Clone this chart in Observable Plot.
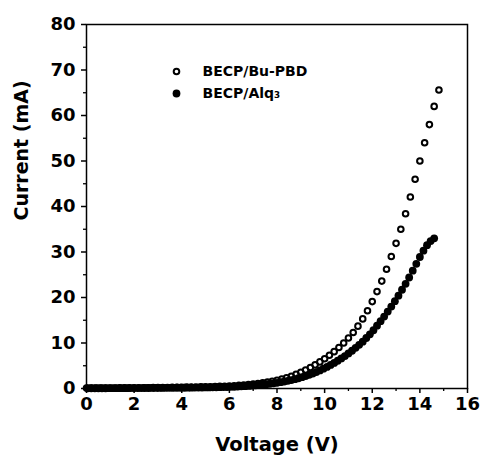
<!DOCTYPE html>
<html><head><meta charset="utf-8">
<script src="https://cdn.jsdelivr.net/npm/d3@7"></script>
<script src="https://cdn.jsdelivr.net/npm/@observablehq/plot@0.6"></script>
<style>body{margin:0;background:#fff}</style>
</head><body><div id="chart"></div>
<script>
// Series 1: BECP/Bu-PBD (open circles)
const pbdVoltage = [
  0,0.2,0.4,0.6,0.8,1.0,1.2,1.4,1.6,1.8,
  2.0,2.2,2.4,2.6,2.8,3.0,3.2,3.4,3.6,3.8,
  4.0,4.2,4.4,4.6,4.8,5.0,5.2,5.4,5.6,5.8,
  6.0,6.2,6.4,6.6,6.8,7.0,7.2,7.4,7.6,7.8,
  8.0,8.2,8.4,8.6,8.8,9.0,9.2,9.4,9.6,9.8,
  10.0,10.2,10.4,10.6,10.8,11.0,11.2,11.4,11.6,11.8,
  12.0,12.2,12.4,12.6,12.8,13.0,13.2,13.4,13.6,13.8,
  14.0,14.2,14.4,14.6,14.8
];
const pbdCurrent = [
  0.10,0.10,0.10,0.11,0.11,0.12,0.12,0.13,0.13,0.14,
  0.15,0.16,0.17,0.18,0.19,0.20,0.21,0.22,0.24,0.26,
  0.28,0.30,0.32,0.34,0.36,0.38,0.40,0.43,0.46,0.50,
  0.55,0.61,0.68,0.77,0.87,0.98,1.10,1.24,1.40,1.58,
  1.80,2.05,2.35,2.70,3.10,3.55,4.05,4.60,5.20,5.85,
  6.55,7.30,8.10,9.00,10.0,11.1,12.3,13.7,15.3,17.1,
  19.1,21.3,23.6,26.2,29.0,31.9,35.0,38.4,42.1,46.0,
  50.0,54.0,58.0,62.0,65.6
];
// Series 2: BECP/Alq3 (filled circles)
const alqVoltage = [
  0.05,0.2,0.35,0.5,0.65,0.8,0.95,1.1,1.25,1.4,
  1.55,1.7,1.85,2.0,2.15,2.3,2.45,2.6,2.75,2.9,
  3.05,3.2,3.35,3.5,3.65,3.8,3.95,4.1,4.25,4.4,
  4.55,4.7,4.85,5.0,5.15,5.3,5.45,5.6,5.75,5.9,
  6.05,6.2,6.35,6.5,6.65,6.8,6.95,7.1,7.25,7.4,
  7.55,7.7,7.85,8.0,8.15,8.3,8.45,8.6,8.75,8.9,
  9.05,9.2,9.35,9.5,9.65,9.8,9.95,10.1,10.25,10.4,
  10.55,10.7,10.85,11.0,11.15,11.3,11.45,11.6,11.75,11.9,
  12.05,12.2,12.35,12.5,12.65,12.8,12.95,13.1,13.25,13.4,
  13.55,13.7,13.85,14.0,14.15,14.3,14.45,14.6
];
const alqCurrent = [
  0.05,0.05,0.05,0.06,0.06,0.06,0.07,0.07,0.07,0.08,
  0.08,0.08,0.09,0.09,0.10,0.10,0.11,0.11,0.12,0.12,
  0.13,0.13,0.14,0.14,0.15,0.16,0.16,0.17,0.18,0.19,
  0.20,0.21,0.22,0.23,0.24,0.26,0.27,0.29,0.31,0.33,
  0.36,0.39,0.43,0.47,0.52,0.57,0.63,0.70,0.77,0.85,
  0.94,1.03,1.13,1.25,1.38,1.52,1.68,1.85,2.04,2.25,
  2.48,2.73,3.00,3.30,3.62,3.97,4.35,4.75,5.18,5.63,
  6.10,6.60,7.13,7.70,8.30,8.93,9.60,10.3,11.1,11.9,
  12.8,13.8,14.8,15.8,16.9,18.0,19.2,20.4,21.7,23.0,
  24.4,25.9,27.4,28.9,30.3,31.5,32.4,33.0
];
const xMajorTicks = [0,2,4,6,8,10,12,14,16];
const xMinorTicks = [1,3,5,7,9,11,13,15];
const yMajorTicks = [0,10,20,30,40,50,60,70,80];
const yMinorTicks = [5,15,25,35,45,55,65,75];
const seriesNames = ["BECP/Bu-PBD", "BECP/Alq\u2083"];
const xTitle = "Voltage (V)";
const yTitle = "Current (mA)";

const pbdRows = pbdVoltage.map((v, k) => ({v, i: pbdCurrent[k]}));
const alqRows = alqVoltage.map((v, k) => ({v, i: alqCurrent[k]}));

const F = "DejaVu Sans";
const chart = Plot.plot({
  width: 482, height: 457,
  marginLeft: 86, marginRight: 15, marginTop: 24, marginBottom: 69,
  style: {fontFamily: F, fontWeight: "bold", fontSize: "18px", color: "black", background: "white"},
  x: {domain: [0, 16]},
  y: {domain: [0, 80]},
  marks: [
    Plot.axisX({ticks: xMajorTicks, tickSize: 5, tickPadding: 4, label: null, strokeWidth: 1.5}),
    Plot.axisX({ticks: xMinorTicks, tickSize: 3, tickFormat: () => "", label: null, strokeWidth: 1.3}),
    Plot.axisY({ticks: yMajorTicks, tickSize: 5, tickPadding: 6, label: null, strokeWidth: 1.5}),
    Plot.axisY({ticks: yMinorTicks, tickSize: 3, tickFormat: () => "", label: null, strokeWidth: 1.3}),
    Plot.frame({stroke: "black", strokeWidth: 1.5}),
    Plot.dot(alqRows, {x: "v", y: "i", r: 3.9, fill: "black"}),
    Plot.dot(pbdRows, {x: "v", y: "i", r: 2.8, stroke: "black", strokeWidth: 2, fill: "none"}),
    // legend
    Plot.dot([seriesNames[0]], {frameAnchor: "top-left", dx: 90, dy: 47, r: 2.8, stroke: "black", strokeWidth: 2, fill: "none"}),
    Plot.dot([seriesNames[1]], {frameAnchor: "top-left", dx: 90, dy: 69, r: 3.9, fill: "black"}),
    Plot.text([seriesNames[0]], {text: d => d, frameAnchor: "top-left", dx: 116, dy: 47, textAnchor: "start", lineAnchor: "middle", fontSize: 14, fontWeight: "bold", fill: "black"}),
    Plot.text([seriesNames[1]], {text: d => d, frameAnchor: "top-left", dx: 116, dy: 69, textAnchor: "start", lineAnchor: "middle", fontSize: 14, fontWeight: "bold", fill: "black"}),
    // axis titles
    Plot.text([xTitle], {text: d => d, frameAnchor: "bottom", dy: 56, lineAnchor: "middle", fontSize: 19.5, fontWeight: "bold", fill: "black"}),
    Plot.text([yTitle], {text: d => d, frameAnchor: "left", dx: -65, dy: 14, rotate: -90, lineAnchor: "middle", fontSize: 19, fontWeight: "bold", fill: "black"})
  ]
});
document.getElementById("chart").appendChild(chart);
</script>
</body></html>
